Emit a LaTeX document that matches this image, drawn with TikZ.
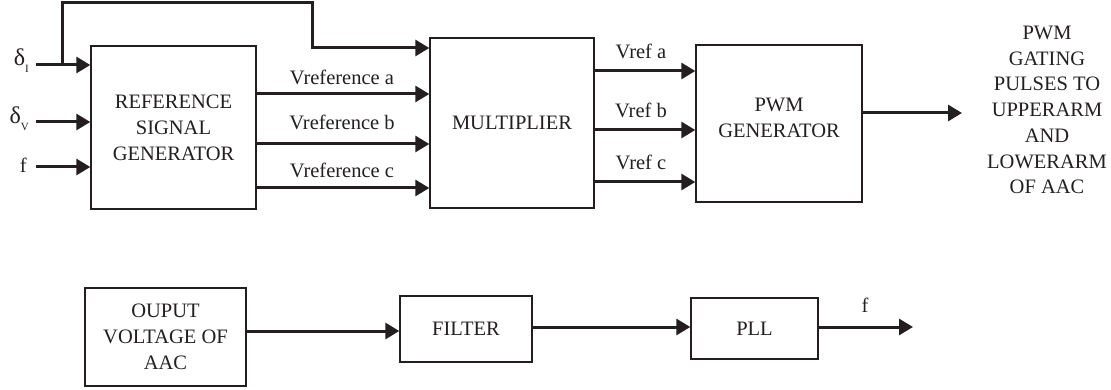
\documentclass[tikz,border=0pt]{standalone}
\usepackage{fontspec}
\setmainfont{Liberation Serif}
\usetikzlibrary{arrows.meta}
\definecolor{ink}{HTML}{231F20}
\tikzset{
  block/.style={draw=ink, line width=1.4pt, fill=white, inner sep=0pt,
                align=center, text=ink, font=\fontsize{20.5}{26}\selectfont},
  sig/.style={draw=ink, line width=3pt,
              -{Triangle[length=14pt,width=16pt]}},
  wire/.style={draw=ink, line width=3pt},
  lab/.style={text=ink, inner sep=0pt, font=\fontsize{20.5}{26}\selectfont, align=center},
}
\newcommand{\dsub}[1]{{\fontsize{24}{24}\selectfont δ}\raisebox{-7pt}{\fontsize{11}{11}\selectfont #1}}
\begin{document}
\begin{tikzpicture}[x=1pt,y=-1pt]
\useasboundingbox (0,0) rectangle (1111,390);

% main blocks
\node[block, minimum width=165pt, minimum height=163pt] (rsg) at (173.5,127.5)
  {REFERENCE\\SIGNAL\\GENERATOR};
\node[block, minimum width=164pt, minimum height=170pt] (mul) at (512,123)
  {MULTIPLIER};
\node[block, minimum width=166pt, minimum height=157pt] (pwm) at (779,123.5) {};
\node[lab] (pwmtxt) at (779,118) {PWM\\GENERATOR};
\node[lab, font=\fontsize{20.5}{25.7}\selectfont] (out) at (1047,110)
  {PWM\\GATING\\PULSES TO\\UPPERARM\\AND\\LOWERARM\\OF AAC};

% lower chain
\node[block, minimum width=161pt, minimum height=98pt] (oav) at (165.5,337)
  {OUPUT\\VOLTAGE OF\\AAC};
\node[block, minimum width=132pt, minimum height=66pt] (filt) at (466,329)
  {FILTER};
\node[block, minimum width=127pt, minimum height=61pt] (pll) at (754.5,328.5)
  {PLL};

% input labels
\node[lab, anchor=east] (dI) at (29,61) {\dsub{I}};
\node[lab, anchor=east] (dV) at (29,119) {\dsub{V}};
\node[lab, anchor=east] (fin) at (27,165) {f};

\coordinate (inI) at (36,65);
\coordinate (inV) at (36,122);
\coordinate (inF) at (36,167);
\coordinate (br) at (62,65);

\draw[sig] (inI) -- (inI -| rsg.west);
\draw[sig] (inV) -- (inV -| rsg.west);
\draw[sig] (inF) -- (inF -| rsg.west);

% bypass of the current reference straight to the multiplier
\coordinate (up) at (62,3);
\coordinate (over) at (312,3);
\coordinate (down) at (312,48);
\draw[wire, line join=miter] (br) -- (up) -- (over) -- (down) -- ++(5,0);
\draw[sig] (down) -- (down -| mul.west);

% reference signals
\foreach \y/\c/\ly in {94/a/85, 144/b/130, 188/c/178}{
  \coordinate (ra\c) at (rsg.east |- 0,\y);
  \draw[sig] (ra\c) -- (ra\c -| mul.west);
  \node[lab, anchor=base] (vr\c) at (342,\ly) {Vreference \c};
}

% scaled references
\foreach \y/\c/\ly in {71/a/59, 130/b/118, 182/c/170}{
  \coordinate (sa\c) at (mul.east |- 0,\y);
  \draw[sig] (sa\c) -- (sa\c -| pwm.west);
  \node[lab, anchor=base] (vf\c) at (641,\ly) {Vref \c};
}

% gating output
\coordinate (gt) at (pwm.east |- 0,113);
\coordinate (gtend) at (962,113);
\draw[sig] (gt) -- (gtend);

% lower chain connections
\coordinate (o1) at (oav.east |- 0,331);
\draw[sig] (o1) -- (o1 -| filt.west);
\coordinate (o2) at (filt.east |- 0,327);
\draw[sig] (o2) -- (o2 -| pll.west);
\coordinate (o3) at (pll.east |- 0,327);
\coordinate (fend) at (913,327);
\draw[sig] (o3) -- (fend);
\node[lab] (fout) at (865,305) {f};
\end{tikzpicture}
\end{document}
